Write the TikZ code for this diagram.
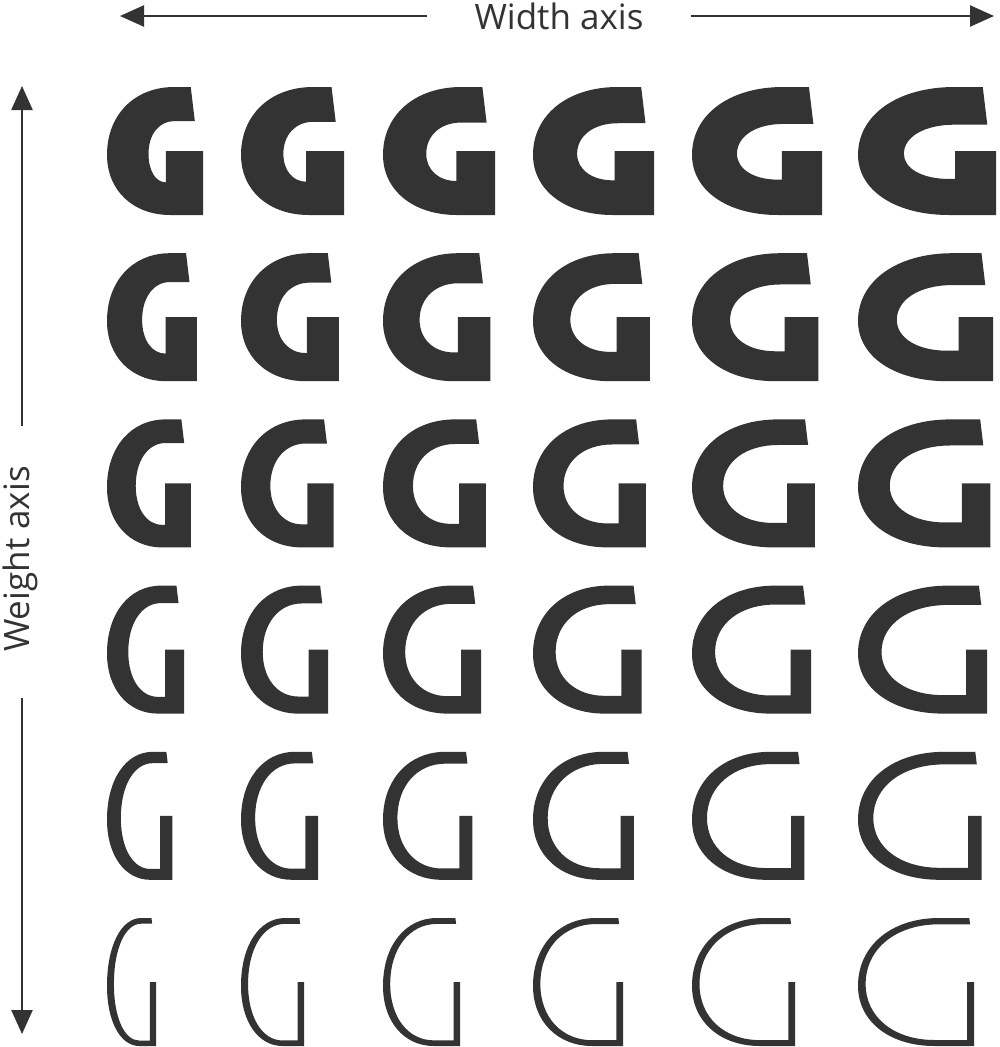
\documentclass[tikz,border=0pt]{standalone}
\usepackage{fontspec}
\setmainfont{Open Sans}
\usetikzlibrary{arrows.meta}
\definecolor{ink}{HTML}{333333}
\newcommand\drawglyph[4]{%
  \pgfmathsetmacro\gW{#3}%
  \pgfmathsetmacro\gs{#4}%
  \pgfmathsetmacro\gH{128}%
  \pgfmathsetmacro\gst{0.92*\gs}%
  \pgfmathsetmacro\gsl{1.12*\gs}%
  \pgfmathsetmacro\gsb{0.88*\gs}%
  \pgfmathsetmacro\gtxa{\gW-3-0.25*\gs}%
  \pgfmathsetmacro\gtxb{\gtxa+0.12*\gst}%
  \pgfmathsetmacro\gys{64}%
  \pgfmathsetmacro\gcx{min(0.7*\gW,\gtxa)}%
  \pgfmathsetmacro\gyl{0.53*\gH}%
  \pgfmathsetmacro\gxb{0.66*\gW}%
  \pgfmathsetmacro\gk{0.59}%
  \pgfmathsetmacro\gxib{min(\gxb,\gW-\gs)}%
  \pgfmathsetmacro\gxit{min(0.7*\gW,\gtxb)}%
  \pgfmathsetmacro\gyli{(\gst+\gH-\gsb)/2+2}%
  \begin{scope}[shift={(#1,#2)}]
    \fill[glyphfill] (\gtxa,0) -- (\gcx,0)
      .. controls ({\gcx*(1-\gk)},0) and (0,{\gyl*(1-\gk)}) .. (0,\gyl)
      .. controls (0,{\gyl+\gk*(\gH-\gyl)}) and ({\gxb*(1-\gk)},\gH) .. (\gxb,\gH)
      -- (\gW,\gH) -- (\gW,\gys) -- ({\gW-\gs},\gys) -- ({\gW-\gs},{\gH-\gsb})
      -- (\gxib,{\gH-\gsb})
      .. controls ({\gxib-\gk*(\gxib-\gsl)},{\gH-\gsb}) and (\gsl,{\gyli+\gk*(\gH-\gsb-\gyli)}) .. (\gsl,\gyli)
      .. controls (\gsl,{\gyli-\gk*(\gyli-\gst)}) and ({\gxit-\gk*(\gxit-\gsl)},\gst) .. (\gxit,\gst)
      -- (\gtxb,\gst) -- cycle;
  \end{scope}%
}
\begin{document}
\begin{tikzpicture}[x=1pt,y=-1pt,
  glyphfill/.style={fill=ink},
  axisarrow/.style={draw=ink,line width=2.5pt,-{Triangle[length=24pt,width=21pt]}},
  axislabel/.style={text=ink,font=\fontsize{35}{40}\selectfont,inner sep=0pt}]
\useasboundingbox (0,0) rectangle (1000,1047);
% axes
\node[axislabel,anchor=base] (wt) at (559,29) {Width axis};
\coordinate (wl) at (120,16);
\coordinate (wr) at (994,16);
\draw[axisarrow,shorten <=47pt] (wt.west |- wl) -- (wl);
\draw[axisarrow,shorten <=47pt] (wt.east |- wr) -- (wr);
\node[axislabel,anchor=base,rotate=90] (vt) at (29,559) {Weight axis};
\coordinate (vtop) at (22,86);
\coordinate (vbot) at (22,1034);
\draw[axisarrow,shorten <=40pt] (vtop |- vt.east) -- (vtop);
\draw[axisarrow,shorten <=46pt] (vbot |- vt.west) -- (vbot);
% glyph grid
\foreach \gr in {0,...,5}{
  \foreach \gc in {0,...,5}{
    \pgfmathsetmacro\gLx{{107,241,383,533,692,858}[\gc]}
    \pgfmathsetmacro\gWa{{96,103,112,121,130,138}[\gc]}
    \pgfmathsetmacro\gWb{{49,63,77,90,103,116}[\gc]}
    \pgfmathsetmacro\gfr{{1,.87,.74,.6,.35,0}[\gr]}
    \pgfmathsetmacro\gsw{{39,33,27,20,13,6.5}[\gr]*(0.95+0.02*\gc)}
    \pgfmathsetmacro\gWw{\gWb+\gfr*(\gWa-\gWb)}
    \pgfmathsetmacro\gTy{87+166.2*\gr}
    \drawglyph{\gLx}{\gTy}{\gWw}{\gsw}
  }
}
\end{tikzpicture}
\end{document}
